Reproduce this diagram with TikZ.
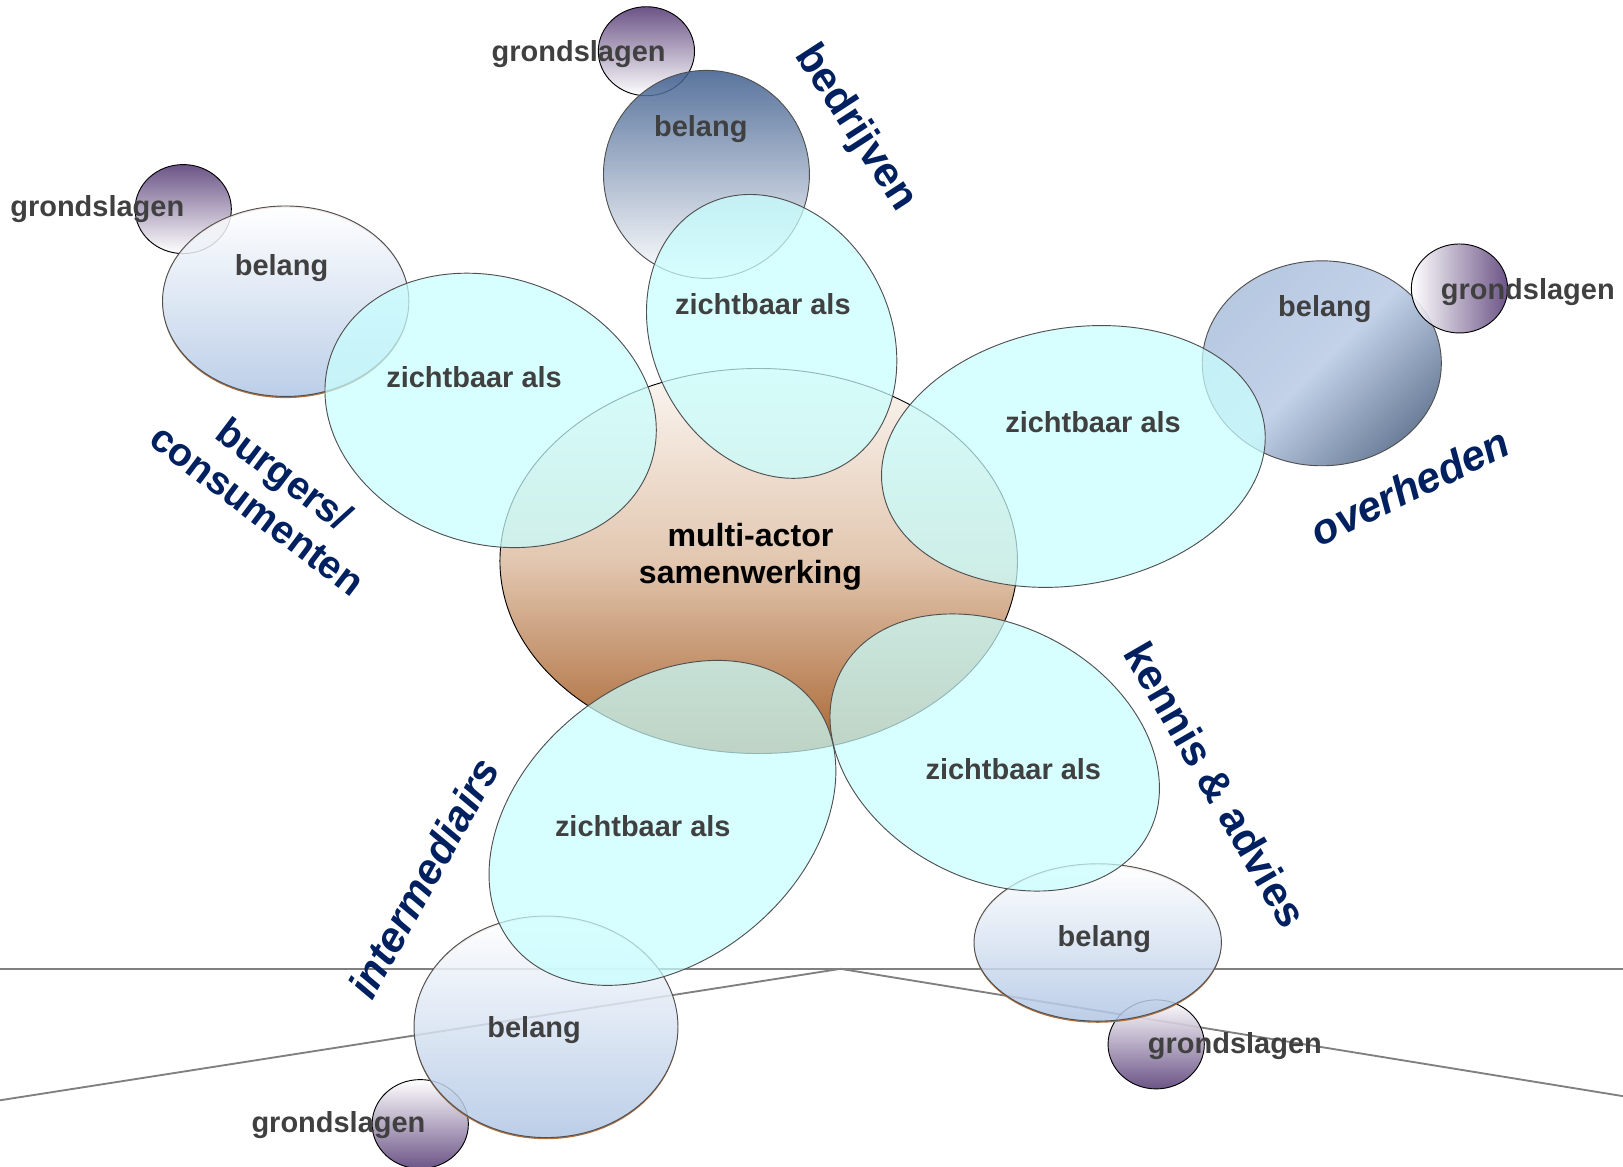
\documentclass[tikz,border=0pt]{standalone}
\usepackage{fontspec}
\setmainfont{Liberation Sans}
\usetikzlibrary{shapes.geometric}

\definecolor{zichtCyan}{RGB}{200,255,255}
\definecolor{randGrijs}{RGB}{80,80,80}
\definecolor{tekstGrijs}{RGB}{64,64,64}
\definecolor{actorBlauw}{RGB}{0,32,96}
\definecolor{grondPaars}{RGB}{92,66,122}
\definecolor{belangLicht}{RGB}{176,198,228}
\definecolor{belangDonker}{RGB}{60,92,140}
\definecolor{overheidLicht}{RGB}{170,190,220}
\definecolor{overheidBand}{RGB}{184,202,229}
\definecolor{overheidDonker}{RGB}{82,104,136}
\definecolor{kernTop}{RGB}{251,247,243}
\definecolor{kernMidden}{RGB}{226,199,176}
\definecolor{kernBodem}{RGB}{168,100,48}
\definecolor{randBruin}{RGB}{176,112,62}
\definecolor{lijnGrijs}{RGB}{128,128,128}

\begin{document}
\begin{tikzpicture}[x=0.5pt, y=-0.5pt,
Blob/.style={ellipse, inner sep=0pt, outer sep=0pt, draw=randGrijs, line width=0.45pt},
Zicht/.style={Blob, fill=zichtCyan, fill opacity=0.72},
Belang/.style={Blob, fill opacity=0.85, top color=white, bottom color=belangLicht},
Grond/.style={Blob, draw=black, fill opacity=0.9, top color=grondPaars, bottom color=white, minimum width=46.5pt, minimum height=43pt},
Tekst/.style={text=tekstGrijs, text opacity=1, font=\bfseries\fontsize{14}{16}\selectfont, inner sep=0pt, text depth=0pt},
Actor/.style={text=actorBlauw, font=\bfseries\fontsize{20.5}{24}\selectfont, inner sep=0pt},
Lijn/.style={lijnGrijs, line width=0.9pt}]
\useasboundingbox (0,0) rectangle (1568,1127);

\coordinate (horLinks) at (0,936);
\coordinate (horRechts) at (1568,936);
\coordinate (schuinLinks) at (0,1063);
\coordinate (top) at (812,936);
\coordinate (schuinRechts) at (1568,1059);
\draw [Lijn] (horLinks) -- (horRechts);
\draw [Lijn] (schuinLinks) -- (top) -- (schuinRechts);

\node [Grond] (gBedrijven) at (624.5,49.5) {};
\node [Grond] (gBurgers) at (177,202) {};
\node [Grond, top color=white, bottom color=grondPaars] (gKennis) at (1117,1009) {};
\node [Grond, top color=white, bottom color=grondPaars] (gIntermediairs) at (406,1086) {};

\foreach \cx/\cy/\rx/\ry in {276/291/119/92, 1060.5/910.5/119.5/76, 527.5/992/127.5/107} {
  \fill [randBruin, even odd rule] (\cx,\cy) ellipse [x radius=\rx, y radius=\ry] (\cx,\cy+1.6) ellipse [x radius=\rx, y radius=\ry];
}

\node [Belang, top color=belangDonker, bottom color=white, minimum width=99.5pt, minimum height=100.5pt] (bBedrijven) at (682.5,168.5) {};
\node [Belang, minimum width=119pt, minimum height=92pt] (bBurgers) at (276,291) {};
\node [Belang, top color=overheidLicht, bottom color=overheidDonker, middle color=overheidBand, shading angle=45, minimum width=115.5pt, minimum height=99pt] (bOverheden) at (1277,351) {};
\node [Belang, minimum width=119.5pt, minimum height=76pt] (bKennis) at (1060.5,910.5) {};
\node [Belang, minimum width=127.5pt, minimum height=107pt] (bIntermediairs) at (527.5,992) {};

\node [Grond, left color=white, right color=grondPaars] (gOverheden) at (1410,278.7) {};

\node [Blob, draw=black, top color=kernTop, bottom color=kernBodem, middle color=kernMidden, minimum width=250pt, minimum height=186pt] (kern) at (733,542) {};

\foreach \nm/\cx/\cy/\w/\h/\rot/\tx/\ty in {
  Burgers/474/396.5/163.2/128.6/-18.6/458/364,
  Bedrijven/745.5/325/114.7/142.3/27/737/294,
  Overheden/1037/441/187/124/10.2/1056/408,
  Kennis/961/727/168/122.5/-28/979/743,
  Intermediairs/640/795/186.7/133.6/39.2/621/798%
} {
  \node [Zicht, minimum width=\w pt, minimum height=\h pt, rotate=\rot] (z\nm) at (\cx,\cy) {};
  \node [Tekst] (tz\nm) at (\tx,\ty) {zichtbaar als};
}

\foreach \nm/\tx/\ty in {Bedrijven/677/122, Burgers/272/256, Overheden/1280/296, Kennis/1067/904, Intermediairs/516/992} {
  \node [Tekst] (tb\nm) at (\tx,\ty) {belang};
}
\foreach \nm/\tx/\ty in {Bedrijven/559/49, Burgers/94/199, Overheden/1476/279, Kennis/1193/1008, Intermediairs/327/1084} {
  \node [Tekst] (tg\nm) at (\tx,\ty) {grondslagen};
}

\node [align=center, inner sep=0pt, font=\bfseries\fontsize{15.5}{18}\selectfont] (tKern) at (725,538) {multi-actor\\samenwerking};

\node [Actor, rotate=-57] (aBedrijven) at (826,124) {bedrijven};
\node [Actor, rotate=-37, align=center, font=\bfseries\fontsize{19}{21.5}\selectfont] (aBurgers) at (262,475) {burgers/\\consumenten};
\node [Actor, rotate=26, font=\bfseries\itshape\fontsize{20.5}{24}\selectfont] (aOverheden) at (1362,470) {overheden};
\node [Actor, rotate=-60] (aKennis) at (1175,758) {kennis \& advies};
\node [Actor, rotate=61, font=\bfseries\itshape\fontsize{20.5}{24}\selectfont] (aIntermediairs) at (409,848) {intermediairs};

\end{tikzpicture}
\end{document}
